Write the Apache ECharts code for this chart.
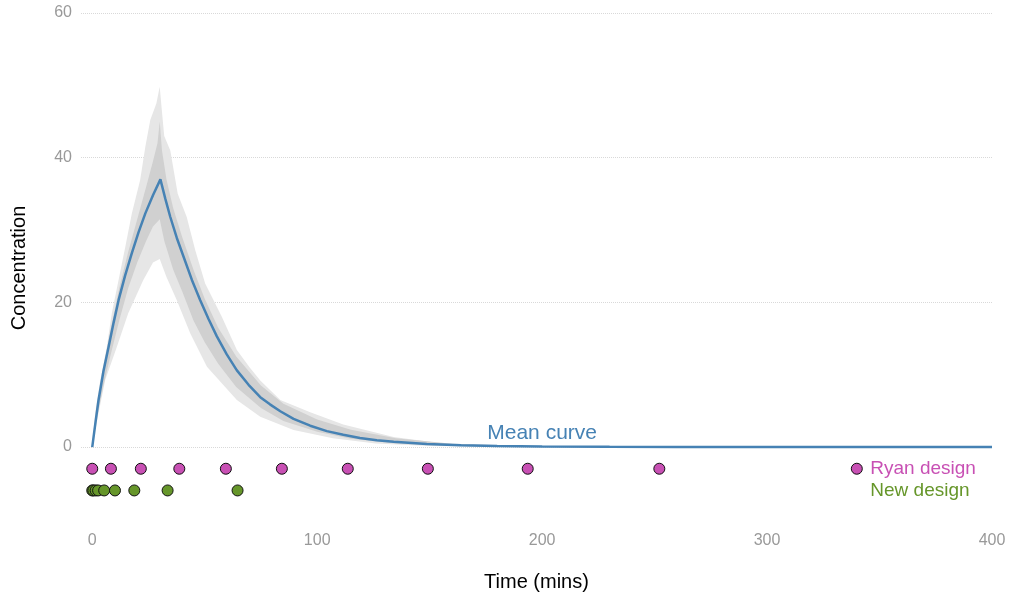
<!DOCTYPE html>
<html>
<head>
<meta charset="utf-8">
<script src="https://cdn.jsdelivr.net/npm/echarts@6/dist/echarts.min.js"></script>
<style>
html,body{margin:0;padding:0;background:#fff;}
#chart{width:1010px;height:597px;}
</style>
</head>
<body>
<div id="chart"></div>
<script>
// ---- data ----
var xTicks = [0, 100, 200, 300, 400];
var yTicks = [0, 20, 40, 60];

var meanT = [0, 1.4, 2.8, 5, 7.3, 9.5, 11.7, 14.6, 17.6, 20.6, 23.6, 27, 30.3,
  32.5, 34.7, 37.6, 40.6, 44.3, 48, 51.7, 55.4, 59.8, 64.3, 69.5, 74.7, 79, 83.6,
  89.5, 96.9, 104.3, 111.6, 119, 126.5, 134, 148.7, 164, 180, 200, 230, 260, 300, 400];
var meanC = [0, 3.3, 6.5, 10.5, 13.9, 17.2, 20.3, 23.7, 26.8, 29.7, 32.3, 34.8, 37.0,
  34.3, 31.8, 28.9, 26.3, 23.1, 20.3, 17.7, 15.3, 12.8, 10.6, 8.6, 6.9, 5.9, 4.95,
  3.9, 2.95, 2.2, 1.7, 1.25, 0.95, 0.72, 0.42, 0.25, 0.15, 0.08, 0.03, 0.01, 0, 0];

// outer (faint) envelope of the simulated curves
var outerUpT = [0, 1.3, 3.6, 6.5, 8.7, 11.7, 14.7, 17.6, 21.3, 23.6, 25.8, 28.5, 30, 30.8, 32, 34.7, 38, 42, 45.8, 50.2, 57.6, 64.3, 70, 74.7, 83.6, 96.9, 111.6, 134, 156, 180, 220, 260];
var outerUpC = [0, 4.7, 9.3, 13.9, 18.5, 23.1, 27.7, 32.3, 36.9, 41.5, 45.2, 47.5, 49.8, 47, 43, 41, 35, 31.8, 27.2, 22.6, 18, 13.4, 11, 9.2, 6.5, 4.8, 3.1, 1.4, 0.5, 0.15, 0.02, 0];
var outerLoT = [0, 2.8, 5.8, 11, 16, 22.7, 27, 30, 33, 37.6, 43.6, 51, 64.3, 74.7, 89.5, 107, 126, 150, 180, 220, 260];
var outerLoC = [0, 4.7, 9.3, 13.9, 18.5, 23.1, 25.5, 26, 23.5, 20.3, 15.7, 11.1, 6.5, 4.2, 2.35, 1.2, 0.5, 0.15, 0.03, 0, 0];

// inner (dense) band of the simulated curves
var innerUpT = [0, 2, 5, 8, 12, 16, 20, 24, 27, 29, 30, 31, 33, 36, 40, 45, 50, 56, 64, 75, 85, 100, 115, 135, 160, 200, 240];
var innerUpC = [0, 5.5, 11, 16, 22, 27, 31.5, 36, 39.5, 42, 45, 41, 37, 33, 29, 24.5, 20.5, 16.5, 12.5, 8.5, 6, 3.8, 2.4, 1.2, 0.45, 0.08, 0];
var innerLoT = [0, 2, 5, 8, 12, 16, 20, 24, 27, 30, 32, 36, 40, 45, 50, 56, 64, 75, 85, 100, 115, 135, 160, 200, 240];
var innerLoC = [0, 4, 8.5, 12.5, 17.5, 22, 25.5, 28.5, 30.5, 31.5, 28.5, 24.5, 21.5, 17.5, 14.5, 11.5, 8.3, 5.4, 3.6, 2.1, 1.15, 0.5, 0.15, 0.02, 0];

var ryanTimes = [0, 8.3, 21.6, 38.7, 59.4, 84.3, 113.6, 149.2, 193.6, 252.1, 339.9];
var ryanLevel = -3;
var newTimes = [0, 0.5, 1.5, 2.6, 5.3, 10.1, 18.7, 33.5, 64.6];
var newLevel = -6;

var labels = [
  {name: 'Mean curve', t: 200, c: 1.9, color: '#4682B4', align: 'center', size: 21},
  {name: 'Ryan design', t: 339.9, c: -3, color: '#C850B4', align: 'left', size: 19},
  {name: 'New design', t: 339.9, c: -6, color: '#66962A', align: 'left', size: 19}
];

// ---- build ----
function pairs(t, c) { return t.map(function (v, i) { return [v, c[i]]; }); }

function bandSeries(upT, upC, loT, loC, color, z) {
  return {
    type: 'custom',
    silent: true,
    z: z,
    data: [0],
    renderItem: function (params, api) {
      var pts = [];
      for (var i = 0; i < upT.length; i++) pts.push(api.coord([upT[i], upC[i]]));
      for (var j = loT.length - 1; j >= 0; j--) pts.push(api.coord([loT[j], loC[j]]));
      return {type: 'polygon', shape: {points: pts}, style: {fill: color}};
    }
  };
}

var chart = echarts.init(document.getElementById('chart'), null, {renderer: 'canvas'});
var font = 'Liberation Sans, Arial, sans-serif';

chart.setOption({
  animation: false,
  backgroundColor: '#fff',
  grid: {left: 81, right: 18, top: 13, bottom: 74, containLabel: false},
  xAxis: {
    type: 'value', min: -5, max: 400,
    name: 'Time (mins)', nameLocation: 'middle', nameGap: 49,
    nameTextStyle: {color: '#000', fontSize: 20, fontFamily: font},
    axisLine: {show: false}, axisTick: {show: false, customValues: xTicks},
    axisLabel: {customValues: xTicks, color: '#999', fontSize: 16, fontFamily: font, margin: 10},
    splitLine: {show: false}
  },
  yAxis: {
    type: 'value', min: -10.5, max: 60,
    name: 'Concentration', nameLocation: 'middle', nameGap: 52, nameRotate: 90,
    nameTextStyle: {color: '#000', fontSize: 20, fontFamily: font},
    axisLine: {show: false}, axisTick: {show: false, customValues: yTicks},
    axisLabel: {customValues: yTicks, color: '#999', fontSize: 16, fontFamily: font, margin: 9},
    splitLine: {show: true, lineStyle: {type: 'dotted', color: '#d9d9d9', width: 1}}
  },
  series: [
    bandSeries(outerUpT, outerUpC, outerLoT, outerLoC, '#e6e6e6', 1),
    bandSeries(innerUpT, innerUpC, innerLoT, innerLoC, '#d0d0d0', 2),
    {
      type: 'line', name: 'Mean curve', z: 3,
      data: pairs(meanT, meanC), showSymbol: false, symbol: 'none',
      lineStyle: {color: '#4682B4', width: 2.5}
    },
    {
      type: 'scatter', name: 'Ryan design', z: 4,
      data: ryanTimes.map(function (t) { return [t, ryanLevel]; }),
      symbolSize: 11,
      itemStyle: {color: '#C850B4', borderColor: '#111', borderWidth: 1, opacity: 1}
    },
    {
      type: 'scatter', name: 'New design', z: 4,
      data: newTimes.map(function (t) { return [t, newLevel]; }),
      symbolSize: 11,
      itemStyle: {color: '#66962A', borderColor: '#111', borderWidth: 1, opacity: 1}
    },
    {
      type: 'scatter', name: 'labels', z: 5, silent: true,
      data: labels.map(function (l) {
        return {
          value: [l.t, l.c], symbolSize: 11,
          itemStyle: {color: 'rgba(0,0,0,0)', borderWidth: 0, opacity: 1},
          label: {
            show: true, formatter: l.name, color: l.color, fontSize: l.size, fontFamily: font,
            position: l.align === 'left' ? 'right' : 'inside', distance: 8
          }
        };
      })
    }
  ]
});
</script>
</body>
</html>
